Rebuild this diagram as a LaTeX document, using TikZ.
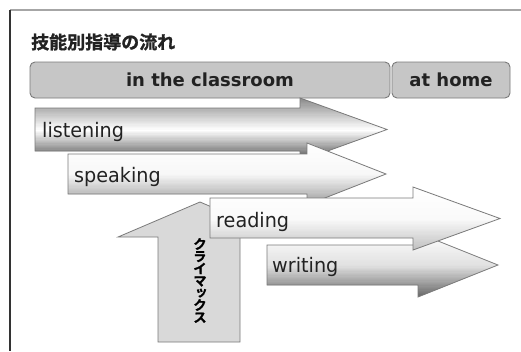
\documentclass[tikz,border=0pt]{standalone}
\usepackage{fontspec}
\newfontfamily\labfont{DejaVu Sans}[FakeStretch=0.96]
\newfontfamily\hdrfont{DejaVu Sans}
\newfontfamily\cjkheavy{Noto Sans CJK JP Bold}[FakeBold=1.2]
\newfontfamily\cjkvheavy{Noto Sans CJK JP Bold}[FakeBold=1.2,RawFeature=+vert]
\definecolor{txt}{HTML}{222222}
\definecolor{edge}{HTML}{7A7A7A}
\definecolor{barfill}{HTML}{C6C6C6}
\definecolor{upfill}{HTML}{D9D9D9}
\tikzset{
  arrowshape/.style={draw=edge, line width=0.8pt, line join=miter},
  barbox/.style={draw=edge, fill=barfill, line width=0.9pt, rounded corners=5pt},
  hdrtext/.style={font=\hdrfont\bfseries\fontsize{18}{20}\selectfont, text=txt, inner sep=0pt},
  labtext/.style={font=\labfont\fontsize{20}{22}\selectfont, text=txt, inner sep=0pt, anchor=base west},
}
% #1 path, #2 y top, #3 y bottom, #4 #5 #6 percent of black at top, middle, bottom
\newcommand\gradarrow[6]{%
  \begin{scope}
    \clip #1;
    \foreach \k in {0,...,50}{%
      \pgfmathsetmacro\yy{#2+(#3-#2)*\k/50}%
      \pgfmathsetmacro\yb{\yy+(#3-#2)*1.6/50}%
      \pgfmathsetmacro\gt{\k/50}%
      \pgfmathsetmacro\gv{\gt<0.5 ? (#4+(#5-#4)*\gt*2) : (#5+(#6-#5)*(\gt-0.5)*2)}%
      \fill[black!\gv] (0,\yy) rectangle (521,\yb);
    }
  \end{scope}
  \draw[arrowshape] #1;
}
\begin{document}
\begin{tikzpicture}[x=1pt,y=1pt]
\useasboundingbox (0,0) rectangle (521,-351);
\fill[white] (0,0) rectangle (521,-351);
% frame
\draw[gray!70, line width=1.6pt] (10,-10) -- (521,-10);
\draw[black!80, line width=1.4pt] (10,-10) -- (10,-351);
% title
\node[anchor=west, inner sep=0pt, font=\cjkheavy\fontsize{18}{20}\selectfont, text=txt] (title) at (31,-42) {技能別指導の流れ};
% header bars
\draw[barbox] (30,-62) rectangle (390,-98);
\node[hdrtext] (classroom) at (210,-80) {in the classroom};
\draw[barbox] (392,-62) rectangle (510,-98);
\node[hdrtext] (home) at (451,-80) {at home};
% listening
\gradarrow{(35,-108) -- (300,-108) -- (300,-98) -- (387,-129.5) -- (300,-161) -- (300,-151) -- (35,-151) -- cycle}{-98}{-161}{45}{0}{70}
\node[labtext] (listening) at (42,-137) {listening};
% speaking
\gradarrow{(68,-154) -- (307,-154) -- (307,-143) -- (386,-174) -- (307,-205) -- (307,-194) -- (68,-194) -- cycle}{-143}{-205}{0}{3}{40}
\node[labtext] (speaking) at (74,-182) {speaking};
% climax up arrow
\filldraw[arrowshape, fill=upfill]
  (158,-342) -- (158,-237) -- (118,-237) -- (200,-202) -- (282,-237) -- (240,-237) -- (240,-342) -- cycle;
\node[align=center, inner sep=0pt, font=\cjkvheavy\fontsize{13.5}{12.2}\selectfont, text=black] (climax) at (200,-280.5) {ク\\ラ\\イ\\マ\\ッ\\ク\\ス};
% writing
\gradarrow{(267,-245) -- (418,-245) -- (418,-233) -- (498,-265) -- (418,-297) -- (418,-285) -- (267,-285) -- cycle}{-233}{-297}{0}{12}{60}
\node[labtext] (writing) at (272,-272) {writing};
% reading
\gradarrow{(210,-198) -- (413,-198) -- (413,-187) -- (500,-218.5) -- (413,-250) -- (413,-238) -- (210,-238) -- cycle}{-187}{-250}{0}{2}{25}
\node[labtext] (reading) at (216,-227) {reading};
\end{tikzpicture}
\end{document}
